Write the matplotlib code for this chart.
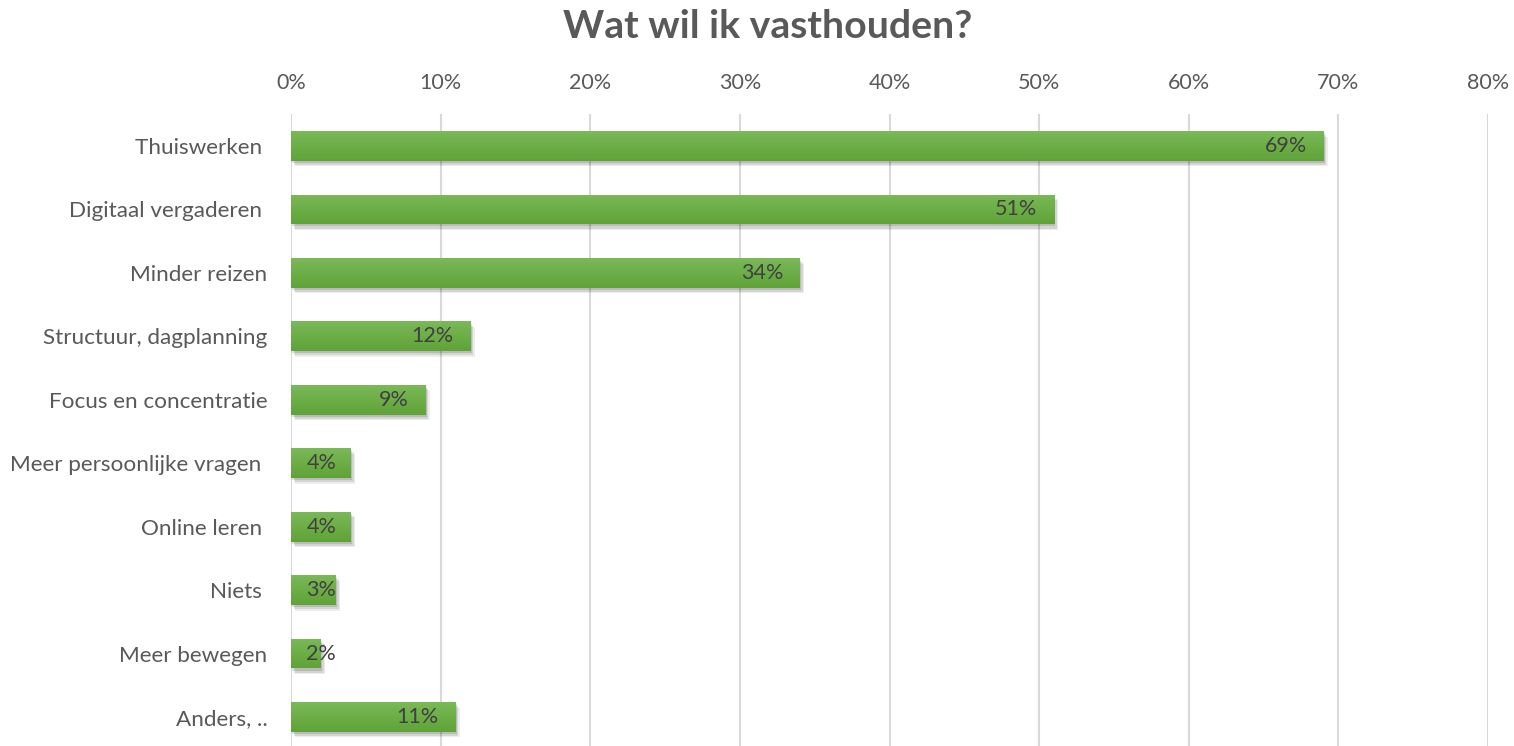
import matplotlib
matplotlib.use("Agg")
import matplotlib.pyplot as plt
import matplotlib.patheffects as pe
import numpy as np
from matplotlib.colors import LinearSegmentedColormap
from matplotlib.ticker import FuncFormatter

categories = ["Thuiswerken ", "Digitaal vergaderen ", "Minder reizen", "Structuur, dagplanning",
              "Focus en concentratie", "Meer persoonlijke vragen ", "Online leren ", "Niets ",
              "Meer bewegen", "Anders, .."]
values = [69, 51, 34, 12, 9, 4, 4, 3, 2, 11]
xticks = [0, 10, 20, 30, 40, 50, 60, 70, 80]
title = "Wat wil ik vasthouden?"

plt.rcParams['font.family'] = ['Lato', 'DejaVu Sans']
grey = "#595959"
W, H = 1514, 746
fig = plt.figure(figsize=(W / 100, H / 100), dpi=100)
left, right = 291 / W, 1488 / W
top = 1 - 114.3 / H
bottom = 1 - 748.7 / H
ax = fig.add_axes([left, bottom, right - left, top - bottom])

bh = 0.47
y = list(range(len(categories)))
bars = ax.barh(y, values, height=bh, color="#6aae44", zorder=3,
               path_effects=[pe.SimplePatchShadow(offset=(3, -4), shadow_rgbFace="#000000", alpha=0.07),
                             pe.SimplePatchShadow(offset=(2, -3), shadow_rgbFace="#000000", alpha=0.10),
                             pe.SimplePatchShadow(offset=(1, -1.5), shadow_rgbFace="#000000", alpha=0.12),
                             pe.Normal()])
cmap = LinearSegmentedColormap.from_list("g", ["#7ab957", "#5fa338"])
grad = np.linspace(0, 1, 64).reshape(-1, 1)
for i, (b, v) in enumerate(zip(bars, values)):
    im = ax.imshow(grad, cmap=cmap, aspect="auto", extent=(0, v, i + bh / 2, i - bh / 2),
                   zorder=3.5, interpolation="bilinear")
    im.set_clip_path(b)

ax.set_ylim(len(categories) - 0.5, -0.5)
ax.set_xlim(0, 80)
ax.set_yticks(y)
ax.set_yticklabels(categories, fontsize=16.2, color=grey)
ax.set_xticks(xticks)
ax.xaxis.set_major_formatter(FuncFormatter(lambda v, p: f"{v:.0f}%"))
ax.xaxis.tick_top()
ax.tick_params(axis="x", length=0, pad=15, labelsize=15.5, labelcolor=grey)
ax.tick_params(axis="y", length=0, pad=17)
ax.grid(axis="x", color="#d9d9d9", linewidth=1.5, zorder=0)
for s in ax.spines.values():
    s.set_visible(False)

for i, v in enumerate(values):
    if v >= 4.5:
        ax.annotate(f"{v}%", xy=(v, i), xytext=(-12, 0), textcoords="offset points",
                    ha="right", va="center", fontsize=15.5, color="#404040", zorder=5)
    else:
        ax.annotate(f"{v}%", xy=(0, i), xytext=(11, 0), textcoords="offset points",
                    ha="left", va="center", fontsize=15.5, color="#404040", zorder=5)

fig.text(768 / W, 1 - 26 / H, title, ha="center", va="center", fontsize=28.3,
         fontweight="bold", color=grey)

fig.savefig("out.png", dpi=100)
